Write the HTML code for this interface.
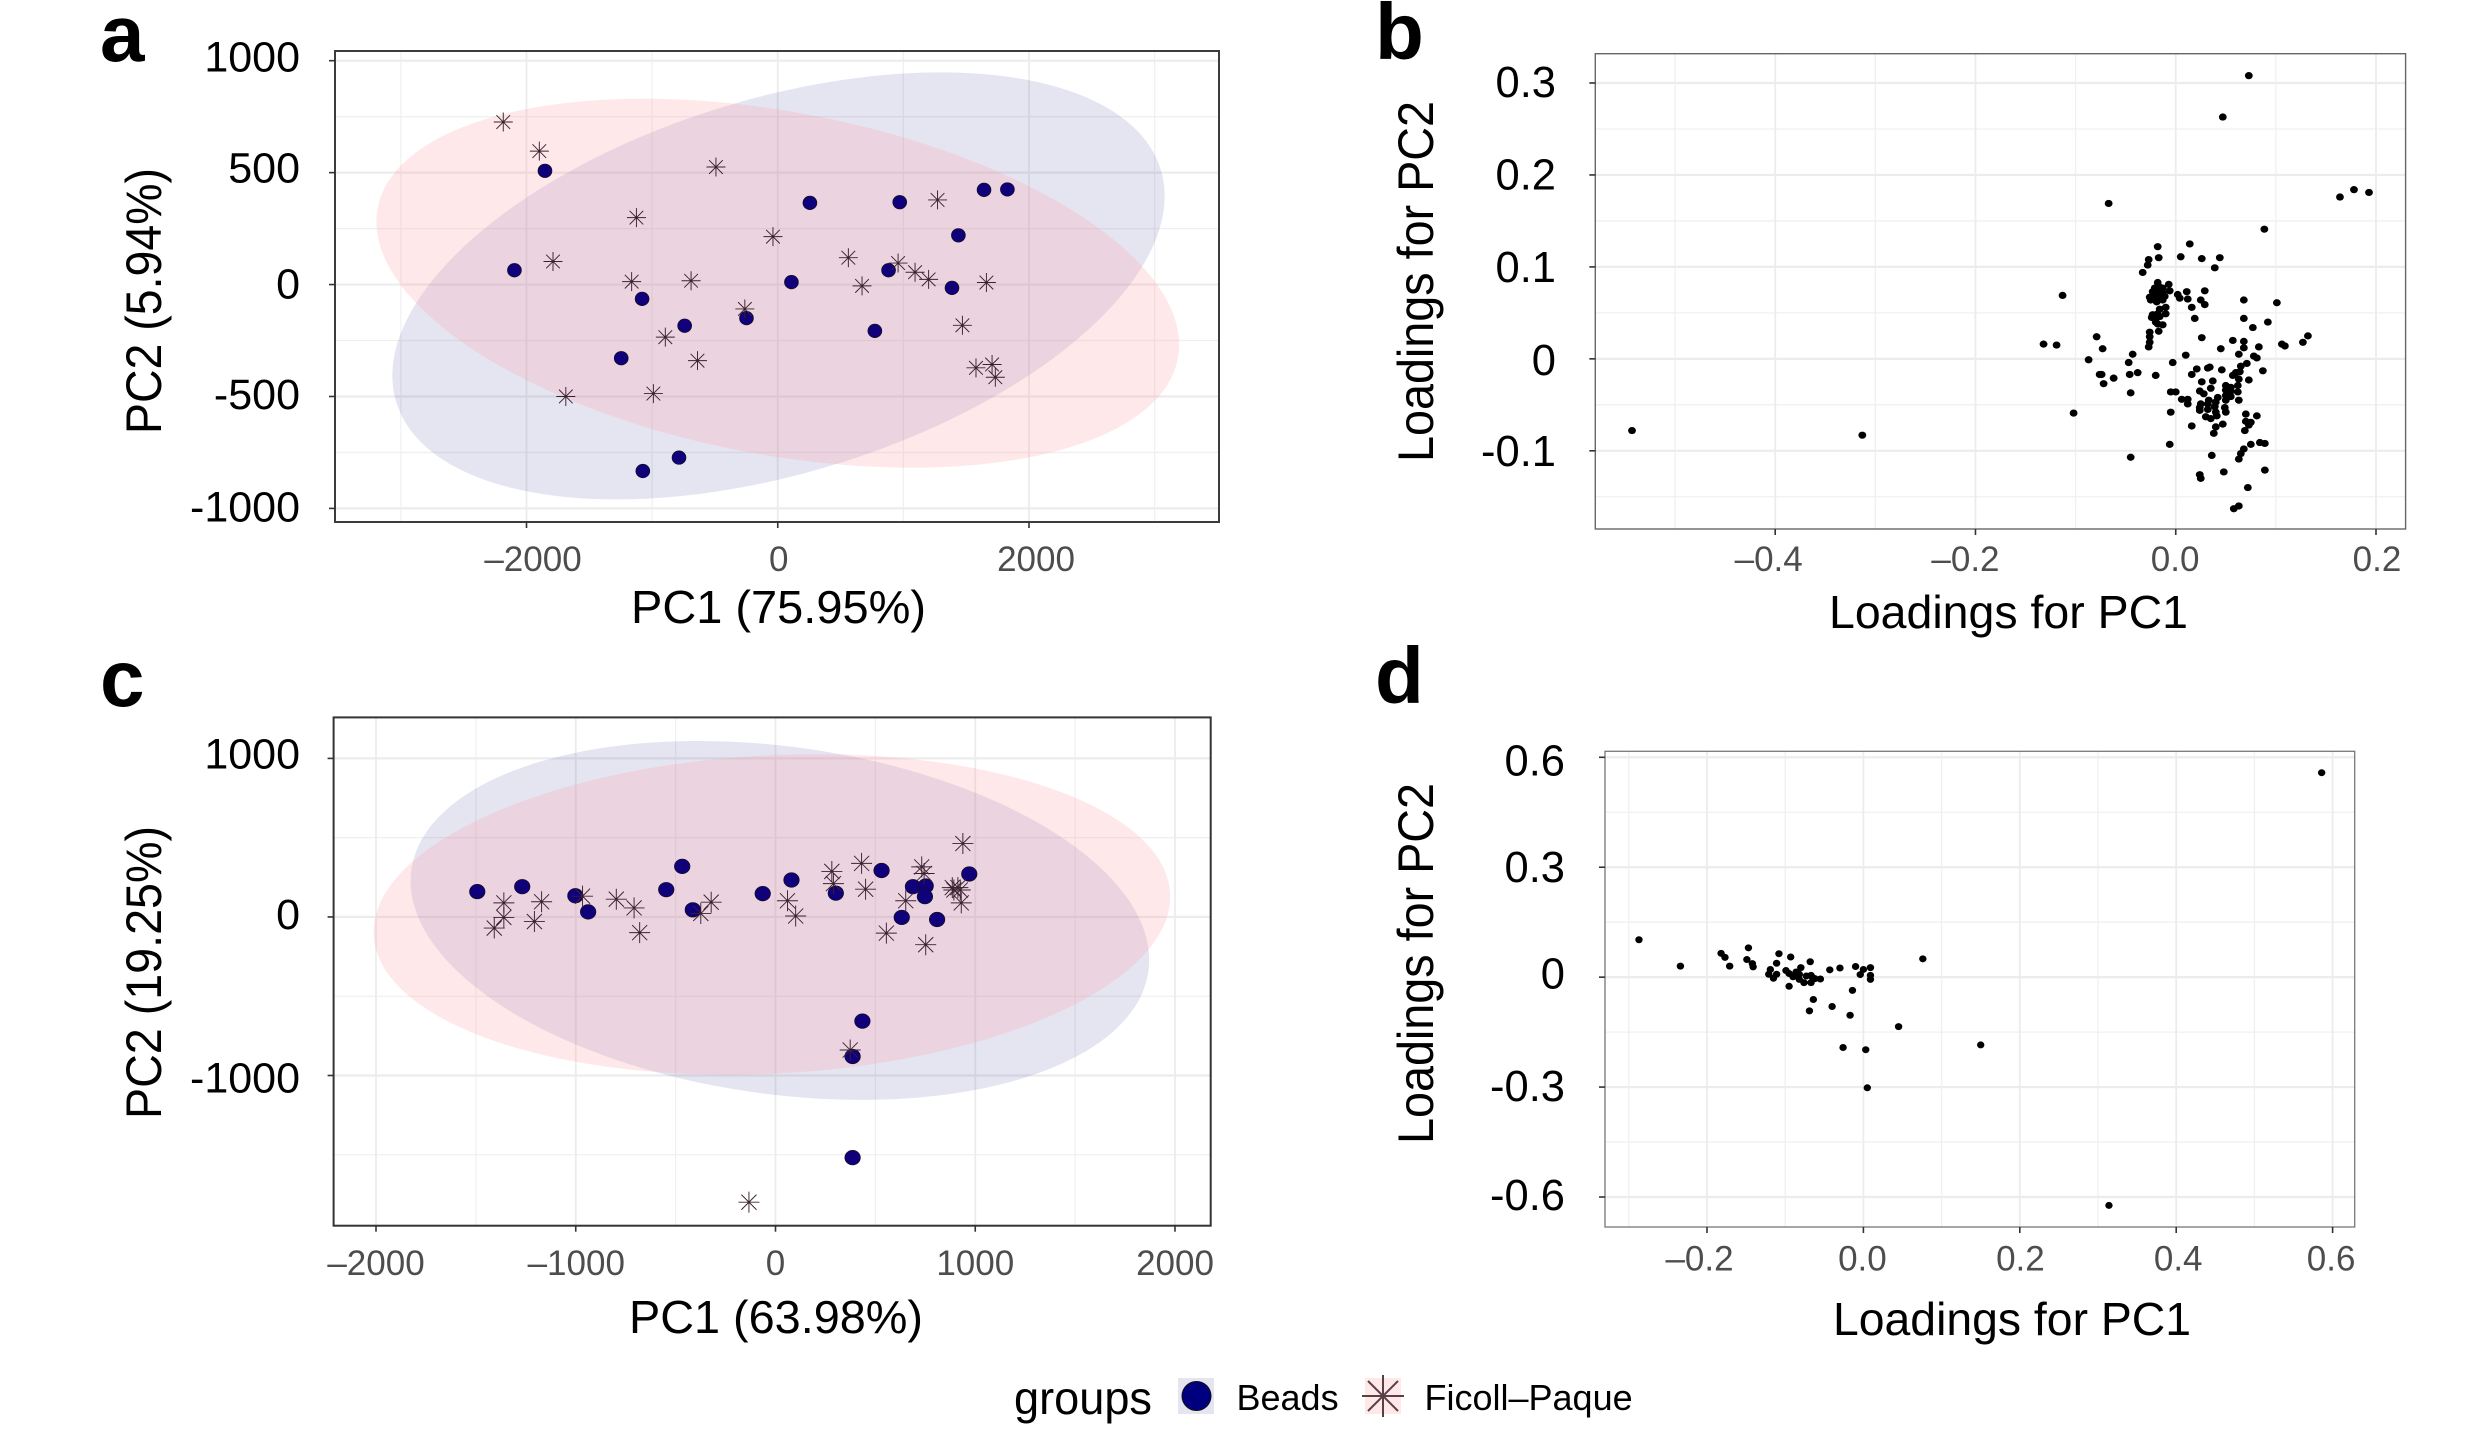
<!DOCTYPE html>
<html lang="en">
<head>
<meta charset="utf-8">
<title>PCA score and loading plots</title>
<style>
html,body{margin:0;padding:0;background:#fff;}
svg{display:block;font-family:"Liberation Sans",Arial,sans-serif;}
</style>
</head>
<body>
<svg id="figure" xmlns="http://www.w3.org/2000/svg" width="2483" height="1433" viewBox="0 0 2483 1433">
<rect width="2483" height="1433" fill="#fff"/>
<g id="panels"></g>

<text x="100" y="61" font-size="80" font-weight="700">a</text>
<text x="1375" y="59" font-size="80" font-weight="700">b</text>
<text x="100" y="706" font-size="80" font-weight="700">c</text>
<text x="1375" y="703" font-size="80" font-weight="700">d</text>

<text x="631" y="623" font-size="46" textLength="295" lengthAdjust="spacingAndGlyphs">PC1 (75.95%)</text>
<text transform="translate(161,434) rotate(-90)" font-size="50" textLength="266" lengthAdjust="spacingAndGlyphs">PC2 (5.94%)</text>
<text x="1829" y="628" font-size="46" textLength="359" lengthAdjust="spacingAndGlyphs">Loadings for PC1</text>
<text transform="translate(1433,462) rotate(-90)" font-size="50" textLength="361" lengthAdjust="spacingAndGlyphs">Loadings for PC2</text>
<text x="629" y="1333" font-size="46" textLength="294" lengthAdjust="spacingAndGlyphs">PC1 (63.98%)</text>
<text transform="translate(161,1119) rotate(-90)" font-size="50" textLength="293" lengthAdjust="spacingAndGlyphs">PC2 (19.25%)</text>
<text x="1833" y="1335" font-size="46" textLength="358" lengthAdjust="spacingAndGlyphs">Loadings for PC1</text>
<text transform="translate(1433,1144) rotate(-90)" font-size="50" textLength="361" lengthAdjust="spacingAndGlyphs">Loadings for PC2</text>

<g>
  <text x="1014" y="1414" font-size="46" textLength="138" lengthAdjust="spacingAndGlyphs">groups</text>
  <g>
    <rect x="1178" y="1378" width="36" height="36" fill="#e5e5f2"/>
    <ellipse cx="1196.5" cy="1396" rx="14.5" ry="14.5" fill="#00007f" stroke="#111" stroke-width="1"/>
    <text x="1236.5" y="1410" font-size="36">Beads</text>
  </g>
  <g>
    <rect x="1365" y="1378" width="36" height="36" fill="#ffe8e8"/>
    <path d="M1362 1396H1404M1383 1375V1417M1368 1381L1398 1411M1368 1411L1398 1381" stroke="#5a3f48" stroke-width="2" fill="none"/>
    <text x="1424.5" y="1410" font-size="36">Ficoll–Paque</text>
  </g>
</g>
</svg>

<script>
// ---------- Panel a data ----------
const aXTicks = [-2000, 0, 2000];
const aXTickLabels = ['–2000', '0', '2000'];
const aXMinor = [-3000, -1000, 1000, 3000];
const aYTicks = [1000, 500, 0, -500, -1000];
const aYTickLabels = ['1000', '500', '0', '-500', '-1000'];
const aYMinor = [750, 250, -250, -750];
const aBeads = [[-1853,508],[-2096,64],[-1080,-64],[-741,-184],[-249,-150],[-1246,-329],[-786,-773],[-1074,-833],[109,11],[256,365],[971,368],[1642,423],[1828,425],[1438,220],[882,64],[1387,-15],[773,-207]];
const aFicoll = [[-2185,726],[-1898,596],[-492,525],[-1125,299],[-38,214],[-1789,103],[-1163,13],[-690,17],[562,120],[958,96],[1093,55],[1201,23],[671,-6],[1661,9],[1272,378],[-262,-109],[-895,-235],[-639,-340],[1470,-182],[1578,-372],[1706,-357],[1732,-414],[-1687,-500],[-990,-487]];
// ellipse statistics: centre x, centre y, x half-extent, y half-extent, correlation
const aBeadsEllipse = [6, -6, 3074, 954, 0.42];
const aFicollEllipse = [0, 6, 3195, 824, -0.334];

// ---------- Panel b data ----------
const bXTicks = [-0.4, -0.2, 0, 0.2];
const bXTickLabels = ['–0.4', '–0.2', '0.0', '0.2'];
const bXMinor = [-0.5, -0.3, -0.1, 0.1];
const bYTicks = [0.3, 0.2, 0.1, 0, -0.1];
const bYTickLabels = ['0.3', '0.2', '0.1', '0', '-0.1'];
const bYMinor = [0.25, 0.15, 0.05, -0.05, -0.15];
const bLoadings = [[-.543,-.078],[-.313,-.083],[.073,.308],[.047,.263],[.164,.176],[.178,.184],[.193,.181],[-.067,.169],[.0885,.141],[-.018,.122],[.014,.125],[-.027,.108],[-.017,.110],[.005,.111],[.026,.109],[.044,.110],[-.028,.102],[.039,.099],[-.033,.094],[-.018,.083],[-.007,.081],[-.021,.077],[-.016,.078],[-.013,.077],[-.006,.074],[-.023,.073],[-.018,.071],[-.013,.072],[-.026,.067],[-.021,.068],[-.016,.067],[-.011,.068],[-.025,.064],[-.019,.062],[-.013,.064],[-.010,.056],[-.016,.054],[-.010,.049],[-.023,.048],[-.018,.049],[-.024,.045],[-.020,.045],[-.016,.046],[-.020,.040],[-.018,.038],[-.013,.037],[-.017,.030],[-.026,.029],[-.026,.024],[-.026,.018],[-.027,.013],[.002,.070],[.011,.073],[.004,.066],[.012,.065],[.029,.074],[.025,.064],[.029,.059],[.016,.056],[.019,.044],[.068,.064],[.101,.061],[.068,.044],[.092,.040],[.077,.034],[.026,.023],[.057,.020],[.068,.019],[.068,.012],[.083,.013],[.045,.011],[.106,.016],[.109,.014],[.127,.018],[.132,.025],[-.113,.069],[-.132,.016],[-.119,.015],[-.079,.024],[-.073,.011],[-.087,-.001],[-.043,.005],[-.047,-.004],[-.074,-.017],[-.076,-.017],[-.046,-.017],[-.038,-.015],[-.062,-.021],[-.072,-.027],[-.020,-.018],[-.045,-.037],[-.102,-.059],[-.005,-.058],[-.003,-.004],[.010,.004],[.063,.005],[.078,.003],[.081,.001],[.071,-.005],[.065,-.008],[.087,-.013],[.046,-.012],[.034,-.009],[.032,-.010],[.021,-.011],[.016,-.017],[.064,-.014],[.060,-.015],[.057,-.018],[.063,-.022],[.073,-.023],[.037,-.024],[.026,-.025],[.062,-.029],[.035,-.032],[.050,-.029],[.055,-.031],[.050,-.034],[.055,-.035],[.024,-.035],[.028,-.038],[.062,-.036],[.050,-.040],[.055,-.041],[.063,-.045],[.042,-.042],[.050,-.045],[-.005,-.036],[0,-.036],[.006,-.044],[.012,-.044],[.012,-.049],[.033,-.045],[.025,-.049],[.032,-.049],[.040,-.047],[.024,-.053],[.032,-.055],[.039,-.052],[.049,-.053],[.024,-.056],[.050,-.058],[.040,-.058],[.030,-.063],[.035,-.065],[.041,-.062],[.070,-.060],[.081,-.062],[.047,-.071],[.070,-.068],[.075,-.069],[.073,-.072],[.016,-.073],[.040,-.074],[.038,-.081],[.069,-.078],[-.006,-.093],[.084,-.091],[.089,-.092],[.075,-.093],[.068,-.098],[.065,-.103],[.063,-.109],[.036,-.105],[-.045,-.107],[.089,-.121],[.048,-.123],[.024,-.126],[.025,-.130],[.072,-.140],[.063,-.160],[.058,-.163]];

// ---------- Panel c data ----------
const cXTicks = [-2000, -1000, 0, 1000, 2000];
const cXTickLabels = ['–2000', '–1000', '0', '1000', '2000'];
const cXMinor = [-1500, -500, 500, 1500];
const cYTicks = [1000, 0, -1000];
const cYTickLabels = ['1000', '0', '-1000'];
const cYMinor = [500, -500, -1500];
const cBeads = [[-1493,160],[-1268,191],[-1002,134],[-938,32],[-547,172],[-467,319],[-414,45],[-64,147],[80,233],[302,150],[531,293],[688,191],[752,195],[748,128],[632,-3],[809,-16],[970,271],[435,-657],[386,-880],[386,-1518]];
const cFicoll = [[-1360,89],[-1360,-3],[-1408,-70],[-1207,-29],[-1171,96],[-966,131],[-797,112],[-708,57],[-680,-99],[-374,22],[-322,93],[60,102],[101,6],[282,287],[290,210],[431,338],[451,175],[652,102],[555,-102],[732,316],[744,274],[752,-175],[885,185],[913,185],[930,89],[938,463],[374,-839],[-133,-1799],[925,170],[893,170]];
const cBeadsEllipse = [22, -22, 1849, 1132, -0.22];
const cFicollEllipse = [-18, 16, 1994, 1011, 0.11];

// ---------- Panel d data ----------
const dXTicks = [-0.2, 0, 0.2, 0.4, 0.6];
const dXTickLabels = ['–0.2', '0.0', '0.2', '0.4', '0.6'];
const dXMinor = [-0.3, -0.1, 0.1, 0.3, 0.5];
const dYTicks = [0.6, 0.3, 0, -0.3, -0.6];
const dYTickLabels = ['0.6', '0.3', '0', '-0.3', '-0.6'];
const dYMinor = [0.45, 0.15, -0.15, -0.45];
const dLoadings = [[.586,.558],[.314,-.623],[.076,.050],[.150,-.185],[.005,-.302],[.003,-.198],[-.026,-.192],[.045,-.135],[-.017,-.104],[-.040,-.080],[-.069,-.092],[-.064,-.061],[-.014,-.036],[-.095,-.025],[.009,.026],[0,.021],[-.010,.029],[-.030,.025],[-.043,.020],[-.055,-.005],[-.004,.007],[.009,.005],[.009,-.006],[-.068,.042],[-.080,.026],[-.093,.055],[-.108,.064],[-.111,.038],[-.099,.018],[-.095,.010],[-.119,.021],[-.121,.008],[-.115,-.003],[-.111,.008],[-.090,.001],[-.086,.014],[-.082,.008],[-.082,-.006],[-.076,-.015],[-.073,.003],[-.067,.005],[-.065,-.001],[-.067,-.015],[-.062,-.004],[-.287,.102],[-.234,.030],[-.182,.065],[-.177,.054],[-.171,.030],[-.147,.080],[-.149,.048],[-.142,.037],[-.141,.028]];

// ---------- Drawing ----------
const SVGNS = 'http://www.w3.org/2000/svg';
const root = document.getElementById('panels');

function make(parent, tag, attrs) {
  const el = document.createElementNS(SVGNS, tag);
  for (const k in attrs) el.setAttribute(k, attrs[k]);
  parent.appendChild(el);
  return el;
}
function linearScale(v0, p0, v1, p1) {
  return function (v) { return p0 + (v - v0) * (p1 - p0) / (v1 - v0); };
}
function ellipsePath(stat, sx, sy) {
  const pts = [];
  const r = stat[4], q = Math.sqrt(1 - r * r);
  for (let i = 0; i < 180; i++) {
    const t = i / 180 * 2 * Math.PI;
    const x = stat[0] + stat[2] * Math.cos(t);
    const y = stat[1] + stat[3] * (r * Math.cos(t) + q * Math.sin(t));
    pts.push(sx(x).toFixed(1) + ' ' + sy(y).toFixed(1));
  }
  return 'M' + pts.join('L') + 'Z';
}

function drawPanel(o) {
  const sx = o.sx, sy = o.sy, f = o.frame;
  const g = make(root, 'g', {});
  
  

  const grid = make(g, 'g', { stroke: '#ececec', fill: 'none' });
  
  
  o.xMinor.forEach(function (v) {
    const l = make(grid, 'line', { x1: sx(v), x2: sx(v), y1: f.top, y2: f.bottom, 'stroke-width': 1.3, stroke: '#f0f0f0' });
    
    
  });
  o.yMinor.forEach(function (v) {
    const l = make(grid, 'line', { x1: f.left, x2: f.right, y1: sy(v), y2: sy(v), 'stroke-width': 1.3, stroke: '#f0f0f0' });
    
    
  });
  o.xTicks.forEach(function (v) {
    const l = make(grid, 'line', { x1: sx(v), x2: sx(v), y1: f.top, y2: f.bottom, 'stroke-width': 1.8 });
    
    
  });
  o.yTicks.forEach(function (v) {
    const l = make(grid, 'line', { x1: f.left, x2: f.right, y1: sy(v), y2: sy(v), 'stroke-width': 2.2 });
    
    
  });

  if (o.beadsEllipse) {
    const e1 = make(g, 'path', { d: ellipsePath(o.beadsEllipse, sx, sy), fill: 'rgb(0,0,128)', 'fill-opacity': 0.1 });
    
    
    const e2 = make(g, 'path', { d: ellipsePath(o.ficollEllipse, sx, sy), fill: 'rgb(255,155,160)', 'fill-opacity': 0.23 });
    
    
  }

  const frame = make(g, 'rect', { x: f.left, y: f.top, width: f.right - f.left, height: f.bottom - f.top, fill: 'none', stroke: o.frameColor, 'stroke-width': o.frameWidth });
  
  

  o.xTicks.forEach(function (v, i) {
    const t = make(g, 'line', { x1: sx(v), x2: sx(v), y1: f.bottom, y2: f.bottom + 6, stroke: '#333', 'stroke-width': 1.6 });
    
    
    const lab = make(g, 'text', { x: sx(v) + o.xLabelDx[i], y: o.xLabelY, 'font-size': o.xFont, fill: '#4d4d4d', 'text-anchor': 'middle' });
    lab.textContent = o.xLabels[i];
    
    
  });
  o.yTicks.forEach(function (v, i) {
    const t = make(g, 'line', { x1: f.left - 6, x2: f.left, y1: sy(v), y2: sy(v), stroke: '#333', 'stroke-width': 1.6 });
    
    
    const lab = make(g, 'text', { x: o.yLabelX, y: sy(v) + o.yLabelDy[i], 'font-size': o.yFont, fill: '#000', 'text-anchor': 'end' });
    lab.textContent = o.yLabels[i];
    
    
  });

  if (o.beads) {
    o.beads.forEach(function (d) {
      const c = make(g, 'ellipse', { cx: sx(d[0]), cy: sy(d[1]), rx: o.beadR[0], ry: o.beadR[1], fill: '#10007a', stroke: '#111', 'stroke-width': 0.6 });
      
      
    });
    o.ficoll.forEach(function (d) {
      const x = sx(d[0]), y = sy(d[1]), r = o.starR, k = r * 0.72;
      const s = make(g, 'path', {
        d: 'M' + (x - r) + ' ' + y + 'H' + (x + r) + 'M' + x + ' ' + (y - r) + 'V' + (y + r) +
           'M' + (x - k) + ' ' + (y - k) + 'L' + (x + k) + ' ' + (y + k) +
           'M' + (x - k) + ' ' + (y + k) + 'L' + (x + k) + ' ' + (y - k),
        stroke: '#3a2230', 'stroke-width': 0.95, fill: 'none'
      });
      
      
    });
  }
  if (o.loadings) {
    o.loadings.forEach(function (d) {
      const c = make(g, 'ellipse', { cx: sx(d[0]), cy: sy(d[1]), rx: o.dotR[0], ry: o.dotR[1], fill: '#000' });
      
      
    });
  }
}

drawPanel({
  id: 'panel-a',
  sx: linearScale(-2000, 526.5, 2000, 1029),
  sy: linearScale(1000, 60.7, -1000, 508.4),
  frame: { left: 335, right: 1219, top: 51, bottom: 522 },
  frameColor: '#3c3c3c', frameWidth: 2,
  xTicks: aXTicks, xLabels: aXTickLabels, xMinor: aXMinor,
  yTicks: aYTicks, yLabels: aYTickLabels, yMinor: aYMinor,
  xLabelY: 571, xFont: 35, xLabelDx: [6.5, 1, 7],
  yLabelX: 300, yFont: 43, yLabelDy: [10.8, 9.8, 14, 12.5, 13.1],
  beads: aBeads, ficoll: aFicoll, beadR: [7, 6.8], starR: 9.5,
  beadsEllipse: aBeadsEllipse, ficollEllipse: aFicollEllipse
});
drawPanel({
  id: 'panel-b',
  sx: linearScale(-0.4, 1775.2, 0.2, 2376),
  sy: linearScale(0.3, 83, -0.1, 450.8),
  frame: { left: 1595.3, right: 2405.6, top: 53.7, bottom: 529 },
  frameColor: '#666', frameWidth: 1.4,
  xTicks: bXTicks, xLabels: bXTickLabels, xMinor: bXMinor,
  yTicks: bYTicks, yLabels: bYTickLabels, yMinor: bYMinor,
  xLabelY: 571, xFont: 35, xLabelDx: [-6.5, -10, -0.6, 1],
  yLabelX: 1556, yFont: 43.5, yLabelDy: [14, 14.3, 15.2, 16, 15.2],
  loadings: bLoadings, dotR: [3.9, 3.6]
});
drawPanel({
  id: 'panel-c',
  sx: linearScale(-2000, 376, 2000, 1175),
  sy: linearScale(1000, 758.4, -1000, 1075.5),
  frame: { left: 333.6, right: 1210.7, top: 717.4, bottom: 1225.7 },
  frameColor: '#333', frameWidth: 2,
  xTicks: cXTicks, xLabels: cXTickLabels, xMinor: cXMinor,
  yTicks: cYTicks, yLabels: cYTickLabels, yMinor: cYMinor,
  xLabelY: 1275, xFont: 35, xLabelDx: [0, 0.5, 0, 0, 0],
  yLabelX: 300, yFont: 43, yLabelDy: [10, 12, 17],
  beads: cBeads, ficoll: cFicoll, beadR: [7.8, 7.3], starR: 10.5,
  beadsEllipse: cBeadsEllipse, ficollEllipse: cFicollEllipse
});
drawPanel({
  id: 'panel-d',
  sx: linearScale(-0.2, 1707, 0.6, 2332.6),
  sy: linearScale(0.6, 757.3, -0.6, 1197),
  frame: { left: 1605, right: 2354.7, top: 751.3, bottom: 1227 },
  frameColor: '#777', frameWidth: 1.3,
  xTicks: dXTicks, xLabels: dXTickLabels, xMinor: dXMinor,
  yTicks: dYTicks, yLabels: dYTickLabels, yMinor: dYMinor,
  xLabelY: 1270.5, xFont: 35, xLabelDx: [-7.5, -1, 0.6, 2, -1.5],
  yLabelX: 1565, yFont: 43.5, yLabelDy: [18, 15, 11.5, 14, 13],
  loadings: dLoadings, dotR: [3.7, 3.5]
});
</script>
</body>
</html>
